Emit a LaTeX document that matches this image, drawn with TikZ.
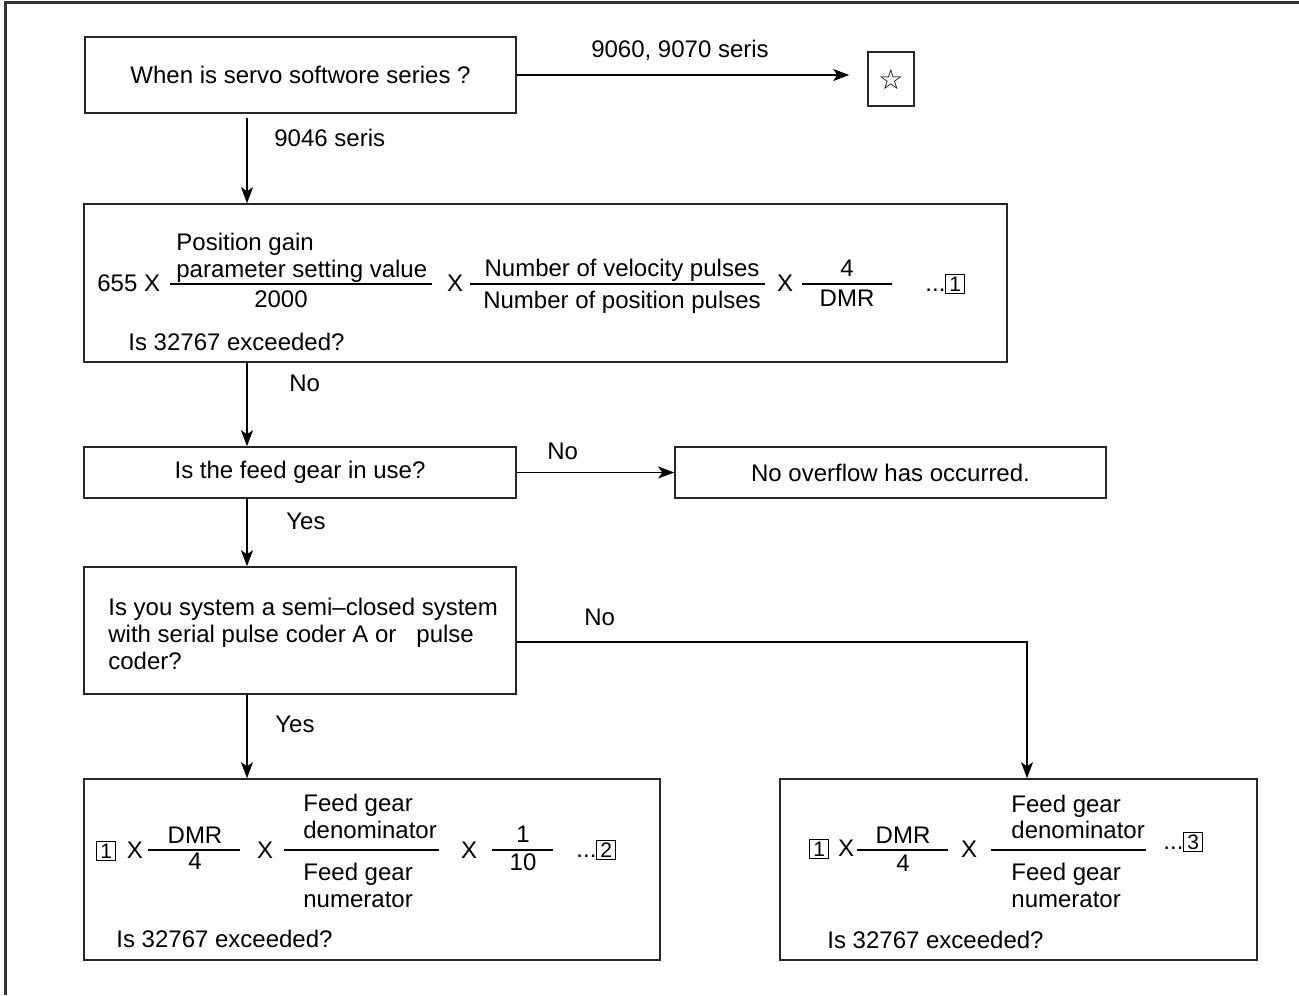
\documentclass[tikz,border=0pt]{standalone}
\usepackage{fontspec}
\setmainfont{Liberation Sans}
\newfontfamily\symfont{DejaVu Sans}
\usepackage{tikz}
\usetikzlibrary{arrows.meta,positioning}
\newcommand{\cnum}[1]{{\setlength{\fboxsep}{0.9pt}\setlength{\fboxrule}{0.45pt}\fbox{\makebox[7pt]{\fontsize{10.5}{10.5}\selectfont #1}}}}

\begin{document}
\begin{tikzpicture}[x=0.5pt,y=-0.5pt,
  font=\fontsize{12}{13.5}\selectfont,
  box/.style={draw=black!85,line width=0.8pt,inner sep=0pt},
  txt/.style={inner sep=0pt,anchor=base west},
  ctr/.style={inner sep=0pt,anchor=base},
  flow/.style={-{Stealth[length=8pt,width=6pt,inset=2pt]},line width=0.7pt},
  bar/.style={line width=0.7pt}]
  \useasboundingbox (0,0) rectangle (1299,995);
  \draw[line width=1.5pt,black!80] (5,995) -- (5,3) -- (1299,3);

  % boxes
  \node[box,minimum width=215.5pt,minimum height=38pt] (servo) at (300.5,75) {When is servo softwore series ?};
  \node[box,minimum width=23pt,minimum height=27pt] (star) at (891,79) {\symfont\fontsize{14}{14}\selectfont ☆};
  \node[box,minimum width=461.5pt,minimum height=79pt] (gain) at (545.5,283) {};
  \node[box,minimum width=216pt,minimum height=25.5pt] (feed) at (300,472.5) {Is the feed gear in use?};
  \node[box,minimum width=215.5pt,minimum height=25.5pt] (noovf) at (890.5,472.5) {No overflow has occurred.};
  \node[box,minimum width=216pt,minimum height=63.5pt] (semi) at (300,630.5) {};
  \node[box,minimum width=288pt,minimum height=90.5pt] (ratio2) at (372,869.5) {};
  \node[box,minimum width=238.5pt,minimum height=90.5pt] (ratio3) at (1018.5,869.5) {};

  % expression 1
  \node[txt] (k655) at (97,291) {655 X};
  \node[txt] (posgain) at (176,250) {Position gain};
  \node[txt] (parset) at (176,277) {parameter setting value};
  \draw[bar] (170,284) -- (432,284);
  \node[ctr] (d2000) at (281,307) {2000};
  \node[ctr] (x1) at (455,291) {X};
  \node[ctr] (velp) at (622,276) {Number of velocity pulses};
  \draw[bar] (470,284) -- (765,284);
  \node[ctr] (posp) at (622,308) {Number of position pulses};
  \node[ctr] (x2) at (785,291) {X};
  \node[ctr] (n4) at (847,276) {4};
  \draw[bar] (802,284) -- (892,284);
  \node[ctr] (dmr) at (847,306) {DMR};
  \node[txt] (ref1) at (925,291) {...\cnum{1}};
  \node[txt] (exc1) at (128,350) {Is 32767 exceeded?};

  % semi-closed check
  \node[inner sep=0pt,anchor=north west,align=left] (semitxt) at (108,598) {Is you system a semi–closed system\\with serial pulse coder A or\ \ \ pulse\\coder?};

  % expression 2
  \node[txt] (f1ref) at (96,858) {\cnum{1}};
  \node[ctr] (f1x) at (135,858) {X};
  \node[ctr] (f1num) at (195,843) {DMR};
  \draw[bar] (148,850) -- (240,850);
  \node[ctr] (f1den) at (195,869) {4};
  \node[ctr] (fx1) at (265,858) {X};
  \node[txt] (fgd1) at (303,811) {Feed gear};
  \node[txt] (fgd2) at (303,838) {denominator};
  \draw[bar] (284,850) -- (439,850);
  \node[txt] (fgn1) at (303,880) {Feed gear};
  \node[txt] (fgn2) at (303,907) {numerator};
  \node[ctr] (fx2) at (469,858) {X};
  \node[ctr] (tnum) at (523,842) {1};
  \draw[bar] (492,850) -- (553,850);
  \node[ctr] (tden) at (523,870) {10};
  \node[txt] (ref2) at (576,857) {...\cnum{2}};
  \node[txt] (exc2) at (116,947) {Is 32767 exceeded?};

  % expression 3
  \node[txt] (g1ref) at (809,856) {\cnum{1}};
  \node[ctr] (g1x) at (846,856) {X};
  \node[ctr] (gnum) at (903,843) {DMR};
  \draw[bar] (857,850) -- (948,850);
  \node[ctr] (gden) at (903,871) {4};
  \node[ctr] (gx) at (969,857) {X};
  \node[txt] (gd1) at (1011,812) {Feed gear};
  \node[txt] (gd2) at (1011,838) {denominator};
  \draw[bar] (991,850) -- (1146,850);
  \node[txt] (gn1) at (1011,880) {Feed gear};
  \node[txt] (gn2) at (1011,907) {numerator};
  \node[txt] (ref3) at (1163,849) {...\cnum{3}};
  \node[txt] (exc3) at (827,948) {Is 32767 exceeded?};

  % connectors
  \coordinate (spine) at (247,0);
  \coordinate (turn) at (1027,642);
  \draw[flow,shorten >=9pt] (servo.east) -- (servo.east -| star.west);
  \node[ctr] (lbl9060) at (680,58) {9060, 9070 seris};
  \draw[flow] ([yshift=-2pt]servo.south -| spine) -- (gain.north -| spine);
  \node[txt] (lbl9046) at (274,147) {9046 seris};
  \draw[flow] (gain.south -| spine) -- (feed.north -| spine);
  \node[txt] (lblno1) at (289,391) {No};
  \draw[flow] (feed.east) -- (noovf.west);
  \node[txt] (lblno2) at (547,459) {No};
  \draw[flow] (feed.south -| spine) -- (semi.north -| spine);
  \node[txt] (lblyes1) at (286,529) {Yes};
  \draw[flow] (semi.south -| spine) -- (ratio2.north -| spine);
  \node[txt] (lblyes2) at (275,732) {Yes};
  \draw[flow] (semi.east |- turn) -- (turn) -- (turn |- ratio3.north);
  \node[txt] (lblno3) at (584,625) {No};
\end{tikzpicture}
\end{document}
